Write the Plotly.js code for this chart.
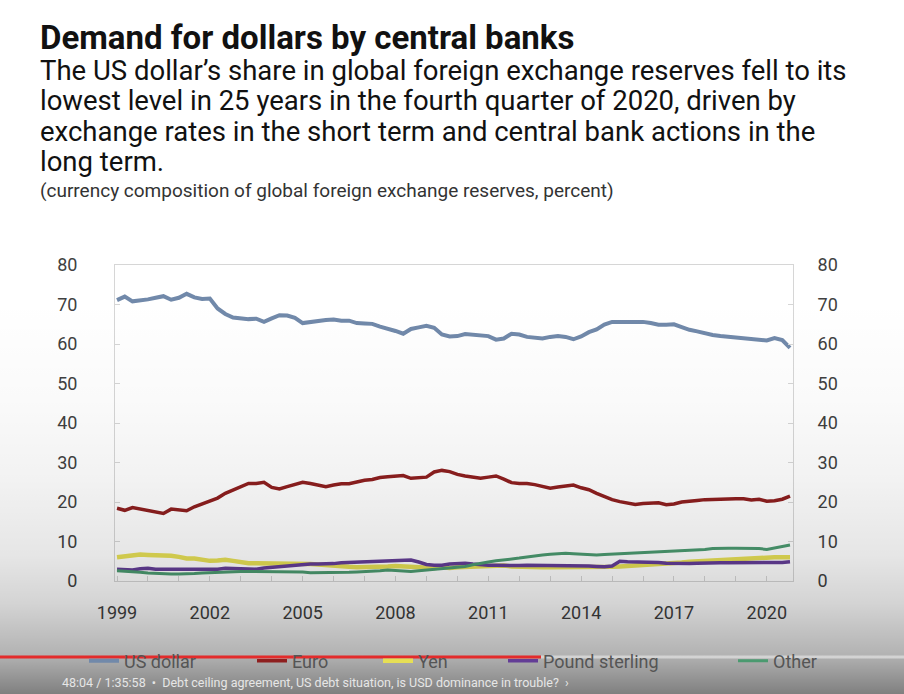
<!DOCTYPE html>
<html><head><meta charset="utf-8">
<script src="https://cdn.plot.ly/plotly-3.0.1.min.js"></script>
<style>html,body{margin:0;padding:0;background:#fff}#chart{width:904px;height:694px}</style>
</head><body><div id="chart"></div>
<script>
// Quarterly data, 1999Q1 .. 2020Q4 (percent)
const startYear = 1999;
const usDollar = [71.1,72.0,70.8,71.0,71.3,71.7,72.1,71.2,71.7,72.7,71.8,71.4,
  71.5,69.0,67.6,66.7,66.4,66.3,66.4,65.6,66.5,67.3,67.2,66.6,
  65.3,65.6,65.9,66.1,66.2,65.9,65.9,65.3,65.2,65.1,64.4,63.9,
  63.3,62.6,63.8,64.2,64.6,64.1,62.4,61.9,62.0,62.5,62.4,62.1,
  62.0,61.1,61.4,62.6,62.4,61.8,61.6,61.4,61.8,62.0,61.8,61.2,
  61.9,63.0,63.7,64.9,65.6,65.6,65.5,65.6,65.6,65.3,64.9,64.9,
  65.0,64.3,63.6,63.2,62.7,62.3,62.0,61.8,61.6,61.4,61.4,61.2,
  60.9,61.5,61.0,59.0];
const euro = [18.4,17.9,18.6,18.2,17.8,17.6,17.1,18.2,18.1,17.8,18.8,19.5,
  20.2,21.0,22.2,23.1,23.9,24.7,24.7,25.0,23.7,23.3,23.9,24.5,
  25.0,24.7,24.3,23.9,24.3,24.6,24.6,25.1,25.5,25.7,26.2,26.4,
  26.5,26.7,26.0,26.2,26.3,27.6,28.0,27.7,27.0,26.6,26.2,26.0,
  26.3,26.6,25.8,24.9,24.7,24.7,24.4,24.0,23.5,23.8,24.1,24.3,
  23.6,23.1,22.2,21.3,20.6,20.1,19.7,19.4,19.6,19.8,19.8,19.3,
  19.5,20.0,20.3,20.4,20.6,20.7,20.7,20.7,20.8,20.8,20.5,20.7,
  20.2,20.3,20.7,21.5];
const yen = [6.0,6.2,6.4,6.7,6.6,6.5,6.6,6.4,6.1,5.7,5.7,5.5,
  5.1,5.2,5.4,5.1,4.7,4.5,4.5,4.5,4.5,4.5,4.4,4.3,
  4.3,4.3,4.2,4.0,3.8,3.6,3.6,3.5,3.5,3.5,3.6,3.7,
  3.8,3.7,3.5,3.4,3.3,3.3,3.5,3.3,3.5,3.6,3.7,3.8,
  3.9,4.0,3.9,3.7,3.6,3.6,3.5,3.5,3.5,3.5,3.4,3.4,
  3.4,3.5,3.4,3.4,3.6,3.7,3.8,3.9,4.0,4.1,4.3,4.5,
  4.6,4.7,4.9,5.0,5.1,5.3,5.4,5.5,5.7,5.8,5.9,5.9,
  5.9,6.0,6.0,6.0];
const poundSterling = [3.0,2.9,2.8,3.1,3.2,3.0,3.0,3.0,3.0,3.0,3.0,2.9,
  2.8,3.0,3.2,3.2,3.2,3.1,3.0,3.3,3.5,3.7,3.8,4.0,
  4.1,4.3,4.3,4.3,4.4,4.6,4.7,4.8,4.9,5.0,5.1,5.2,
  5.3,5.3,5.3,4.8,4.2,4.0,4.0,4.3,4.4,4.5,4.3,4.1,
  4.0,4.0,3.9,3.8,3.9,4.0,4.0,4.0,4.0,4.0,4.0,4.0,
  3.9,3.8,3.7,3.6,3.8,5.0,4.9,4.9,4.9,4.9,4.7,4.5,
  4.4,4.3,4.4,4.5,4.6,4.6,4.6,4.6,4.6,4.6,4.6,4.6,
  4.5,4.5,4.7,4.9];
const other = [2.6,2.5,2.3,2.2,2.0,1.9,1.9,1.8,1.8,1.8,1.9,2.0,
  2.1,2.2,2.3,2.4,2.4,2.4,2.4,2.4,2.4,2.4,2.4,2.4,
  2.3,2.1,2.1,2.1,2.1,2.1,2.2,2.3,2.4,2.4,2.6,2.8,
  2.7,2.5,2.4,2.6,2.8,3.0,3.2,3.3,3.5,3.7,4.1,4.5,
  4.8,5.1,5.3,5.6,5.8,6.1,6.4,6.6,6.8,6.9,7.0,6.9,
  6.8,6.7,6.6,6.7,6.8,6.9,6.9,7.0,7.1,7.2,7.3,7.4,
  7.5,7.7,7.7,7.8,8.0,8.2,8.3,8.3,8.3,8.3,8.3,8.2,
  8.0,8.4,8.7,9.1];
const seriesNames = ['US dollar','Euro','Yen','Pound sterling','Other'];
const tickYears = [1999,2000,2001,2002,2003,2004,2005,2006,2007,2008,2009,2010,
  2011,2012,2013,2014,2015,2016,2017,2018,2019,2020];
const labelYears = [1999,2002,2005,2008,2011,2014,2017,2020];
const yTicks = [0,10,20,30,40,50,60,70,80];

const quarterX = usDollar.map((_, i) => startYear + i / 4);
const colors = ['#7189aa','#8e1f1f','#e6df55','#633d96','#4b9a70'];
const widths = [4, 3.5, 4.5, 3.5, 3];
const allSeries = [usDollar, euro, yen, poundSterling, other];
const legendIds = ['legend','legend2','legend3','legend4','legend5'];

const traces = allSeries.map((vals, k) => ({
  type: 'scatter', mode: 'lines', x: quarterX, y: vals, name: seriesNames[k],
  line: {color: colors[k], width: widths[k]}, legend: legendIds[k], hoverinfo: 'skip'
}));
// right-hand axis twin
traces.push({type:'scatter', mode:'lines', x: quarterX, y: usDollar, yaxis:'y2',
  line:{width:0, color:'rgba(0,0,0,0)'}, showlegend:false, hoverinfo:'skip'});

const FONT = 'Roboto, "Noto Sans", sans-serif';
const L = 115, R = 793, T = 265, B = 581;
const px = v => (v - L) / (R - L);
const py = v => (B - v) / (B - T);

const legendX = [84, 252, 378, 503, 733];
const legends = {};
legendIds.forEach((id, k) => {
  legends[id] = {x: legendX[k] / 904, y: 1 - 661 / 694, xref: 'container', yref: 'container',
    xanchor: 'left', yanchor: 'middle', orientation: 'h', bgcolor: 'rgba(0,0,0,0)',
    font: {family: FONT, size: 18, color: '#555555'}, itemwidth: 30};
});

const grad = '<svg xmlns="http://www.w3.org/2000/svg" width="10" height="394" preserveAspectRatio="none">' +
  '<defs><linearGradient id="g" x1="0" y1="0" x2="0" y2="1">' +
  '<stop offset="0" stop-color="#000" stop-opacity="0"/>' +
  '<stop offset="0.25" stop-color="#000" stop-opacity="0.02"/>' +
  '<stop offset="0.45" stop-color="#000" stop-opacity="0.05"/>' +
  '<stop offset="0.65" stop-color="#000" stop-opacity="0.10"/>' +
  '<stop offset="0.77" stop-color="#000" stop-opacity="0.17"/>' +
  '<stop offset="0.9" stop-color="#000" stop-opacity="0.30"/>' +
  '<stop offset="1" stop-color="#000" stop-opacity="0.50"/>' +
  '</linearGradient></defs><rect width="10" height="394" fill="url(#g)"/></svg>';

const axisCommon = {showgrid: false, zeroline: false, showline: true, linecolor: '#d6d6d6', linewidth: 1,
  ticks: 'inside', ticklen: 5, tickcolor: '#d6d6d6', tickfont: {family: FONT, size: 18, color: '#404040'}};

const layout = Object.assign({
  width: 904, height: 694,
  margin: {l: L, r: 904 - R, t: T, b: 694 - B, pad: 0},
  paper_bgcolor: '#ffffff', plot_bgcolor: '#ffffff',
  showlegend: true,
  xaxis: Object.assign({}, axisCommon, {range: [1998.935, 2020.847], mirror: true,
    tickmode: 'array', tickvals: tickYears, ticklabelstandoff: 15,
    ticktext: tickYears.map(y => labelYears.includes(y) ? String(y) : '')}),
  yaxis: Object.assign({}, axisCommon, {range: [0, 80], tickmode: 'array', tickvals: yTicks,
    mirror: true, ticklabelstandoff: 33}),
  yaxis2: Object.assign({}, axisCommon, {range: [0, 80], tickmode: 'array', tickvals: yTicks,
    overlaying: 'y', side: 'right', ticklabelstandoff: 20}),
  images: [{source: 'data:image/svg+xml;charset=utf-8,' + encodeURIComponent(grad),
    xref: 'paper', yref: 'paper', x: px(0), y: py(300), sizex: 904 / (R - L), sizey: 394 / (B - T),
    sizing: 'stretch', xanchor: 'left', yanchor: 'top', layer: 'above'}],
  shapes: [
    {type: 'line', xref: 'paper', yref: 'paper', x0: px(541), x1: px(904), y0: py(657), y1: py(657),
      line: {color: 'rgba(255,255,255,0.45)', width: 3}},
    {type: 'line', xref: 'paper', yref: 'paper', x0: px(0), x1: px(541), y0: py(657), y1: py(657),
      line: {color: '#e32b2b', width: 3}}
  ],
  annotations: [
    {text: '<b>Demand for dollars by central banks</b>', x: px(38), y: py(38), size: 33},
    {text: 'The US dollar\u2019s share in global foreign exchange reserves fell to its', x: px(38), y: py(70), size: 27.5},
    {text: 'lowest level in 25 years in the fourth quarter of 2020, driven by', x: px(38), y: py(100), size: 27.5},
    {text: 'exchange rates in the short term and central bank actions in the', x: px(38), y: py(131), size: 27.5},
    {text: 'long term.', x: px(38), y: py(161), size: 27.5},
    {text: '(currency composition of global foreign exchange reserves, percent)', x: px(38), y: py(190), size: 19, color: '#333'},
    {text: '48:04 / 1:35:58  \u2022  Debt ceiling agreement, US debt situation, is USD dominance in trouble?  \u203A', x: px(60), y: py(682), size: 12.5, color: '#e6e6e6'}
  ].map(a => ({text: a.text, x: a.x, y: a.y, xref: 'paper', yref: 'paper', xanchor: 'left', yanchor: 'middle',
    showarrow: false, align: 'left', font: {family: FONT, size: a.size, color: a.color || '#111'}}))
}, legends);

Plotly.newPlot('chart', traces, layout, {displayModeBar: false, staticPlot: true});
</script></body></html>
